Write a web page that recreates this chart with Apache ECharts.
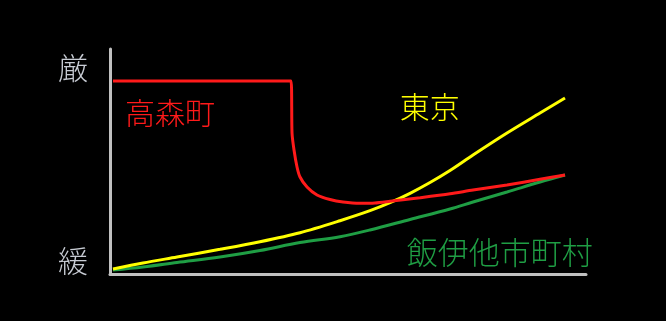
<!DOCTYPE html>
<html><head><meta charset="utf-8">
<script src="https://cdn.jsdelivr.net/npm/echarts@6/dist/echarts.min.js"></script>
<style>html,body{margin:0;padding:0;background:#000;}#c{width:666px;height:321px;}</style>
</head><body><div id="c"></div>
<script>
// Values in arbitrary units: x 0-100 (time), y 0-100 (緩 → 厳)
const yTickValues = [5.8, 91.6];
const yTickLabels = ['緩', '厳'];

const takamoriX = [0.63, 38.03, 38.24, 38.66, 39.29, 39.92, 41.39, 43.49, 46.22, 48.95, 52.52, 55.67, 58.82, 65.13, 71.43, 76.26, 83.40, 90.34, 95.59];
const takamoriY = [85.78, 85.78, 62.67, 55.11, 47.56, 43.11, 38.67, 35.11, 33.11, 32.0, 31.42, 31.56, 32.31, 33.91, 35.64, 37.33, 39.56, 42.09, 44.0];

const tokyoX = [0.63, 6.93, 14.08, 23.11, 31.51, 39.92, 48.32, 54.62, 58.82, 63.03, 67.23, 71.43, 76.26, 83.40, 90.34, 95.59];
const tokyoY = [2.22, 4.89, 7.56, 10.98, 14.36, 18.36, 23.69, 28.13, 31.69, 35.87, 40.67, 46.0, 52.89, 62.67, 71.56, 78.22];

const iidaX = [0.63, 6.93, 14.08, 23.11, 31.51, 39.92, 48.32, 54.62, 63.03, 71.43, 76.26, 83.40, 90.34, 95.59];
const iidaY = [1.78, 3.11, 5.11, 7.56, 10.44, 14.0, 16.6, 19.56, 24.22, 28.89, 32.0, 36.44, 40.89, 44.0];

const seriesNames = ['高森町', '東京', '飯伊他市町村'];
const labelPos = [[12.6, 71.6], [67.2, 74.2], [81.9, 9.8]];
const labelSizes = [30, 30, 31];
const colors = ['#ff1a1a', '#ffff00', '#1f9e44'];
const smoothness = [0.25, 0.3, 0.35];

const zip = (a, b) => a.map((v, i) => [v, b[i]]);
const datasets = [zip(takamoriX, takamoriY), zip(tokyoX, tokyoY), zip(iidaX, iidaY)];

const font = '"Noto Sans CJK JP", "Noto Sans", sans-serif';
const chart = echarts.init(document.getElementById('c'));
const axisCommon = {
  type: 'value', min: 0, max: 100,
  axisLine: { show: true, lineStyle: { color: '#c0c0c0', width: 3 } },
  axisTick: { show: false }, splitLine: { show: false }
};
chart.setOption({
  animation: false,
  backgroundColor: '#000',
  grid: { left: 110, right: 80, top: 49, bottom: 47 },
  xAxis: Object.assign({}, axisCommon, { axisLabel: { show: false } }),
  yAxis: Object.assign({}, axisCommon, {
    axisLabel: {
      show: true, customValues: yTickValues, margin: 22,
      fontFamily: font, fontSize: 30, fontWeight: 300, color: '#c8ccd4',
      formatter: v => yTickLabels[yTickValues.indexOf(v)] || ''
    }
  }),
  series: datasets.map((d, i) => ({
    type: 'line', name: seriesNames[i], data: d, showSymbol: false,
    smooth: smoothness[i],
    lineStyle: { color: colors[i], width: 3 }, z: i === 1 ? 3 : (i === 0 ? 4 : 2),
    markPoint: {
      symbol: 'circle', symbolSize: 0, silent: true,
      data: [{ coord: labelPos[i] }],
      label: { show: true, position: 'inside', formatter: seriesNames[i], fontFamily: font, fontSize: labelSizes[i], fontWeight: 300, color: colors[i] }
    }
  }))
});
</script></body></html>
